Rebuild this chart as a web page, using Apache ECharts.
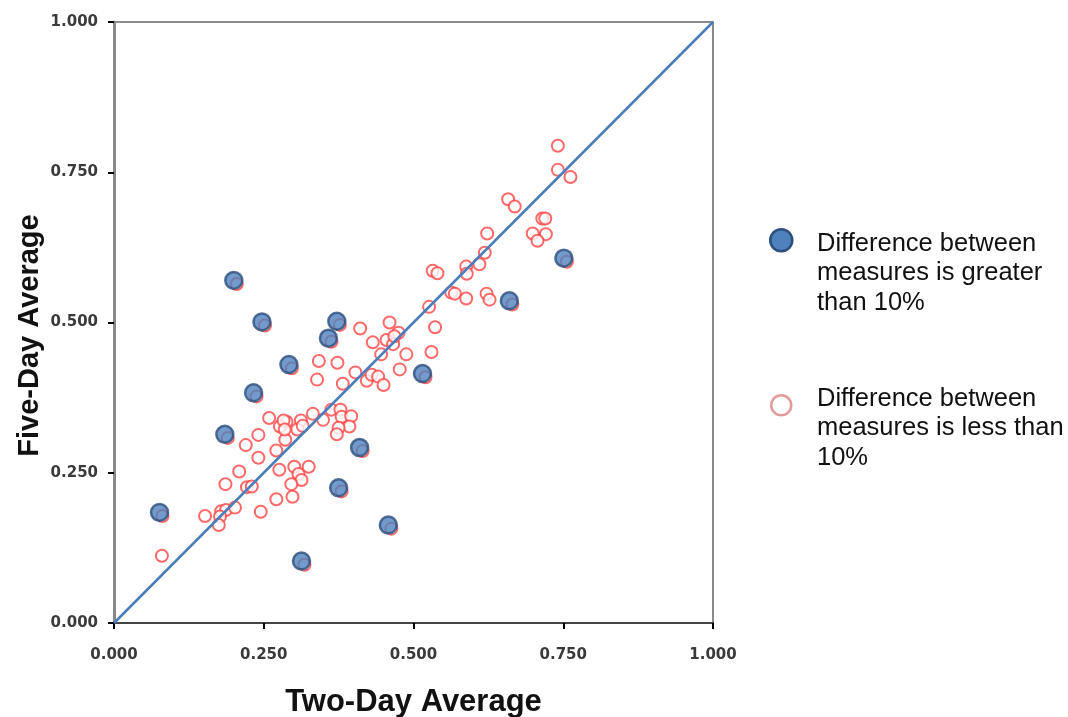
<!DOCTYPE html>
<html>
<head>
<meta charset="utf-8">
<script src="https://cdn.jsdelivr.net/npm/echarts@6/dist/echarts.min.js"></script>
<style>html,body{margin:0;padding:0;background:#fff}#c{width:1068px;height:717px}</style>
</head>
<body>
<div id="c"></div>
<script>
// Difference between measures is greater than 10% (blue filled)
const greaterTwoDay  = [0.076,0.200,0.185,0.233,0.247,0.292,0.313,0.358,0.372,0.375,0.410,0.458,0.515,0.660,0.751];
const greaterFiveDay = [0.184,0.570,0.314,0.383,0.501,0.430,0.103,0.474,0.502,0.225,0.292,0.163,0.415,0.536,0.607];

// Difference between measures is less than 10% (red hollow)
const lessTwoDay = [
  0.741,0.741,0.762,0.658,0.669,0.715,0.720,0.699,0.721,0.707,
  0.623,0.619,0.610,0.588,0.589,0.532,0.540,0.563,0.569,0.588,
  0.622,0.627,0.526,0.536,0.460,0.411,0.432,0.455,0.466,0.475,
  0.488,0.530,0.446,0.342,0.373,0.477,0.339,0.382,0.403,0.422,
  0.430,0.441,0.450,0.288,0.312,0.332,0.349,0.363,0.378,0.380,
  0.396,0.393,0.375,0.372,0.259,0.277,0.283,0.306,0.286,0.241,
  0.220,0.241,0.271,0.276,0.301,0.308,0.313,0.296,0.209,0.186,
  0.222,0.230,0.271,0.298,0.245,0.152,0.179,0.187,0.202,0.177,
  0.175,0.325,0.080,0.468,0.315,0.285,
  0.081,0.205,0.190,0.238,0.252,0.297,0.318,0.363,0.377,0.380,0.415,0.463,0.520,0.665,0.756
];
const lessFiveDay = [
  0.794,0.754,0.742,0.705,0.693,0.673,0.673,0.648,0.647,0.636,
  0.648,0.616,0.597,0.593,0.581,0.586,0.582,0.550,0.548,0.540,
  0.548,0.538,0.526,0.492,0.500,0.490,0.467,0.471,0.464,0.483,
  0.447,0.451,0.447,0.436,0.433,0.422,0.405,0.398,0.417,0.403,
  0.413,0.410,0.396,0.335,0.337,0.348,0.338,0.355,0.355,0.343,
  0.344,0.327,0.325,0.314,0.341,0.327,0.337,0.322,0.305,0.313,
  0.296,0.275,0.287,0.255,0.260,0.248,0.238,0.231,0.252,0.231,
  0.226,0.227,0.206,0.210,0.185,0.178,0.186,0.188,0.192,0.177,
  0.163,0.260,0.112,0.477,0.328,0.322,
  0.178,0.564,0.308,0.377,0.495,0.424,0.097,0.468,0.496,0.219,0.286,0.157,0.409,0.530,0.601
];

// Reference line of equality
const diagonalTwoDay  = [0, 1];
const diagonalFiveDay = [0, 1];

const axisTicks = [0, 0.25, 0.5, 0.75, 1];
const xTitle = 'Two-Day Average';
const yTitle = 'Five-Day Average';
const legendGreater = ['Difference between', 'measures is greater', 'than 10%'];
const legendLess = ['Difference between', 'measures is less than', '10%'];

const zip = (a, b) => a.map((v, i) => [v, b[i]]);

const chart = echarts.init(document.getElementById('c'), null, {renderer: 'canvas'});

const tickLabel = {
  fontFamily: 'DejaVu Sans', fontWeight: 'bold', fontSize: 15, color: '#3a3a3a',
  formatter: v => v.toFixed(3)
};

chart.setOption({
  backgroundColor: '#ffffff',
  animation: false,
  grid: {left: 114, right: 355, top: 22, bottom: 94, show: true, borderColor: '#666', borderWidth: 1.5,
         backgroundColor: 'transparent', containLabel: false, outerBoundsMode: 'none'},
  xAxis: {
    type: 'value', min: axisTicks[0], max: axisTicks[axisTicks.length - 1], interval: 0.25,
    name: xTitle, nameLocation: 'middle', nameGap: 64, nameMoveOverlap: false,
    nameTextStyle: {fontFamily: 'Liberation Sans', fontWeight: 'bold', fontSize: 31, color: '#111'},
    axisLine: {show: true, lineStyle: {color: '#444', width: 2}},
    axisTick: {show: true, length: 6, lineStyle: {color: '#000', width: 2}},
    axisLabel: Object.assign({margin: 25}, tickLabel),
    splitLine: {show: false}
  },
  yAxis: {
    type: 'value', min: axisTicks[0], max: axisTicks[axisTicks.length - 1], interval: 0.25,
    name: yTitle, nameLocation: 'middle', nameGap: 70, nameRotate: 90, nameMoveOverlap: false,
    nameTextStyle: {fontFamily: 'Liberation Sans', fontWeight: 'bold', fontSize: 29, color: '#111', padding: [0, 26, 0, 0]},
    axisLine: {show: true, lineStyle: {color: '#888', width: 3}},
    axisTick: {show: true, length: 6, lineStyle: {color: '#000', width: 2}},
    axisLabel: Object.assign({margin: 16}, tickLabel),
    splitLine: {show: false}
  },
  series: [
    {
      name: 'less', type: 'scatter', z: 2,
      data: zip(lessTwoDay, lessFiveDay),
      symbol: 'circle', symbolSize: 12,
      itemStyle: {color: '#ffffff', borderColor: '#ff4444', borderWidth: 2}
    },
    {
      name: 'diagonal', type: 'line', z: 3,
      data: zip(diagonalTwoDay, diagonalFiveDay),
      showSymbol: false, symbol: 'none',
      lineStyle: {color: '#4a7ebb', width: 2.5}
    },
    {
      name: 'greater', type: 'scatter', z: 4,
      data: zip(greaterTwoDay, greaterFiveDay),
      symbol: 'circle', symbolSize: 17,
      itemStyle: {color: '#4f81bd', borderColor: '#2c4f7c', borderWidth: 2.5}
    }
  ],
  graphic: [
    {type: 'circle', left: 769, top: 228, shape: {r: 11}, style: {fill: '#4f81bd', stroke: '#2c4f7c', lineWidth: 2.5}},
    {type: 'text', left: 817, top: 229, style: {text: legendGreater.join('\n'), font: '25.5px "Liberation Sans"', lineHeight: 29.5, fill: '#111'}},
    {type: 'circle', left: 770, top: 394, shape: {r: 10}, style: {fill: '#fff', stroke: '#e39a9a', lineWidth: 2.5}},
    {type: 'text', left: 817, top: 384, style: {text: legendLess.join('\n'), font: '25.5px "Liberation Sans"', lineHeight: 29.5, fill: '#111'}}
  ]
});
</script>
</body>
</html>
